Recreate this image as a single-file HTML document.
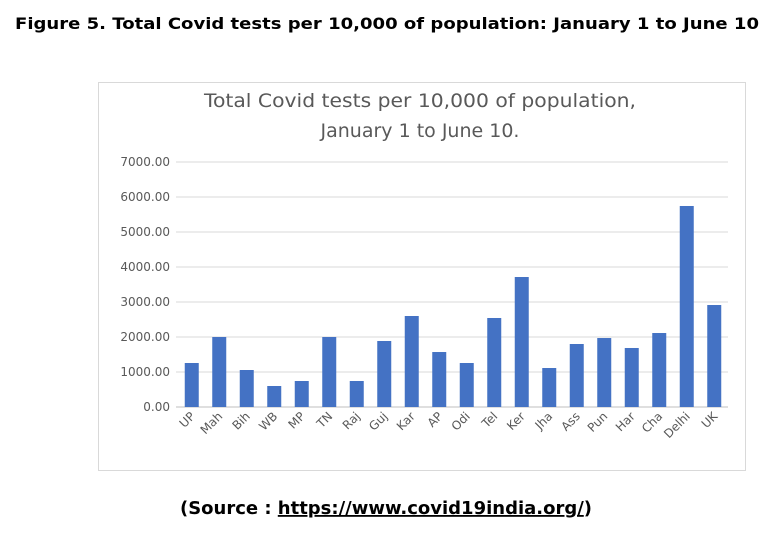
<!DOCTYPE html>
<html><head><meta charset="utf-8"><style>
body{margin:0;width:773px;height:537px;background:#fff;font-family:"DejaVu Sans","Liberation Sans",sans-serif;overflow:hidden}
</style></head><body>
<svg width="773" height="537" font-family="DejaVu Sans, Liberation Sans, sans-serif">
<text x="387" y="29" text-anchor="middle" font-size="16" font-weight="bold" fill="#000" textLength="744" lengthAdjust="spacingAndGlyphs">Figure 5. Total Covid tests per 10,000 of population: January 1 to June 10</text>
<rect x="98.5" y="82.5" width="647" height="388" fill="#fff" stroke="#d9d9d9"/>
<text x="420" y="107" text-anchor="middle" font-size="19" fill="#595959" textLength="432" lengthAdjust="spacingAndGlyphs">Total Covid tests per 10,000 of population,</text>
<text x="420" y="137" text-anchor="middle" font-size="19" fill="#595959">January 1 to June 10.</text>
<g id="grid"></g><g id="bars"></g><g id="xl"></g>
<text x="386" y="514" text-anchor="middle" font-size="18" font-weight="bold" fill="#000" textLength="412" lengthAdjust="spacingAndGlyphs">(Source : <tspan text-decoration="underline">https://www.covid19india.org/</tspan>)</text>
</svg>
<script>
const categories=["UP","Mah","Bih","WB","MP","TN","Raj","Guj","Kar","AP","Odi","Tel","Ker","Jha","Ass","Pun","Har","Cha","Delhi","UK"];
const values=[1257,2000,1057,600,743,2000,743,1886,2600,1571,1257,2543,3714,1114,1800,1971,1686,2114,5743,2914];
const ticks=[0,1000,2000,3000,4000,5000,6000,7000];
const NS="http://www.w3.org/2000/svg";
const y0=407,pxPer=245/7000,x0=178,step=27.5,bw=14;
const y=v=>y0-v*pxPer, xc=i=>x0+step*(i+0.5);
function mk(t,a,p){const e=document.createElementNS(NS,t);for(const k in a)e.setAttribute(k,a[k]);p.appendChild(e);return e;}
const g=document.getElementById('grid');
ticks.forEach(t=>{
 const l=mk('line',{x1:176,x2:728,y1:y(t),y2:y(t),stroke:t===0?'#bfbfbf':'#d9d9d9'},g);
 
 
 const tx=mk('text',{x:170,y:y(t)+4,'text-anchor':'end','font-size':12,fill:'#595959'},g);
 tx.textContent=t.toFixed(2);
 
 
});
const b=document.getElementById('bars'),xl=document.getElementById('xl');
values.forEach((v,i)=>{
 const r=mk('rect',{x:xc(i)-bw/2,y:y(v),width:bw,height:v*pxPer,fill:'#4472c4'},b);
 
 
 const t=mk('text',{x:xc(i)+4,y:417,'text-anchor':'end','font-size':12,fill:'#595959',transform:`rotate(-45 ${xc(i)+4} 417)`},xl);
 t.textContent=categories[i];
 
 
});
</script>
</body></html>
